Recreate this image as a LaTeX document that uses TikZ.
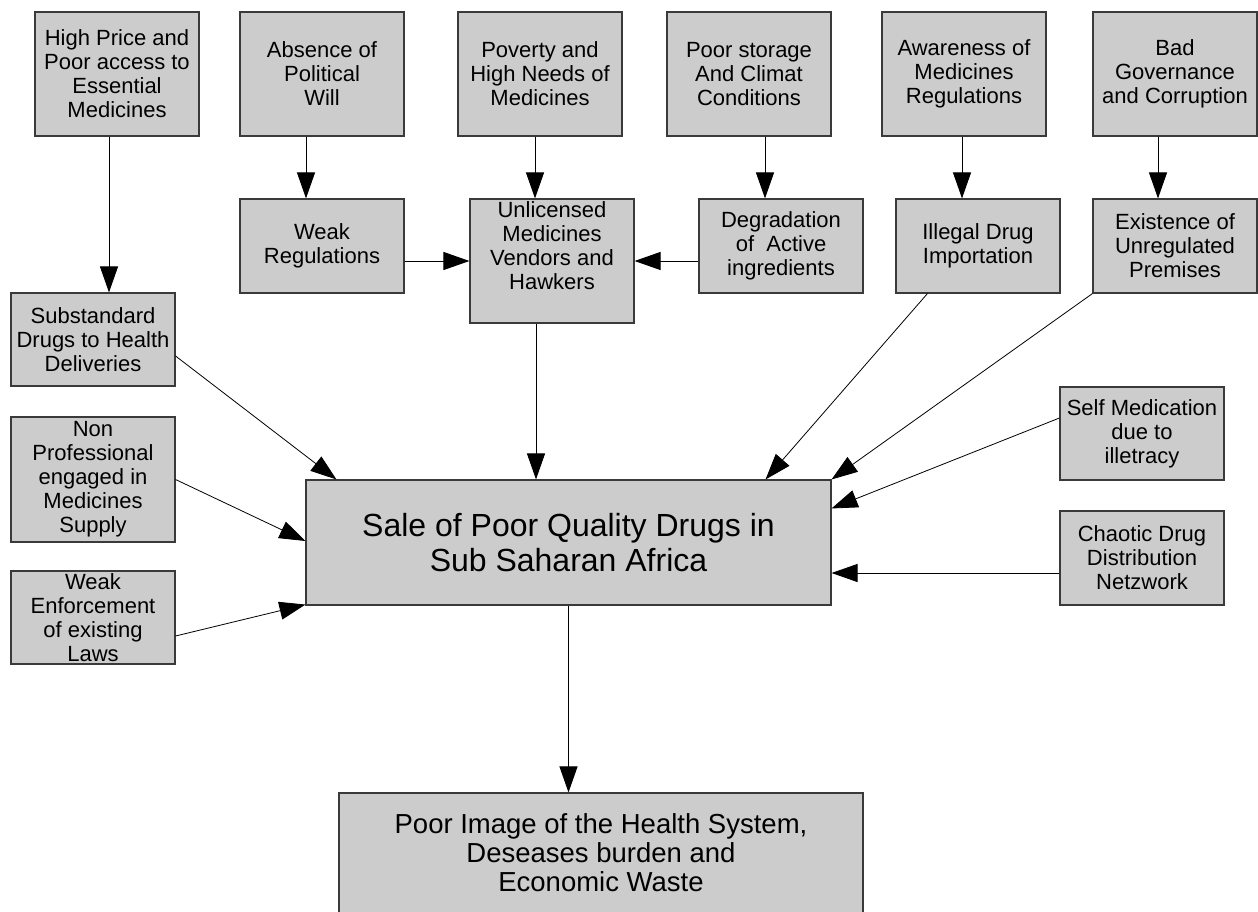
\documentclass[tikz,border=0pt]{standalone}
\usepackage{fontspec}
\setmainfont{Liberation Sans}
\usetikzlibrary{arrows.meta}
\definecolor{boxfill}{HTML}{CCCCCC}
\definecolor{boxline}{HTML}{3A3A3A}
\tikzset{
  cbox/.style={draw=boxline, line width=1.1pt, fill=boxfill, minimum width=164pt,
    inner sep=0pt, align=center, font=\fontsize{22}{24}\selectfont},
  tallbox/.style={cbox, minimum height=124pt},
  lowbox/.style={cbox, minimum height=94pt},
  arr/.style={draw=black, line width=1pt, -{Triangle[length=26pt,width=18pt]}},
}
\begin{document}
\begin{tikzpicture}[x=1pt,y=-1pt]
\useasboundingbox (0,0) rectangle (1258,912);
\clip (0,0) rectangle (1258,912);
\fill[white] (0,0) rectangle (1258,912);
% top row
\node[tallbox] (hp) at (117,74) {High Price and\\Poor access to\\Essential\\Medicines};
\node[tallbox] (abs) at (322,74) {Absence of\\Political\\Will};
\node[tallbox] (pov) at (540,74) {Poverty and\\High Needs of\\Medicines};
\node[tallbox] (stor) at (749,74) {Poor storage\\And Climat\\Conditions};
\node[tallbox] (aware) at (964,74) {Awareness of\\Medicines\\Regulations};
\node[tallbox] (bad) at (1175,74) {Bad\\Governance\\and Corruption};
% second row
\node[lowbox] (weak) at (322,246) {Weak\\Regulations};
\node[tallbox] (unl) at (552,261) {Unlicensed\\Medicines\\Vendors and\\Hawkers\\\strut};
\node[lowbox] (deg) at (781,246) {Degradation\\of\ \ Active\\ingredients};
\node[lowbox] (ill) at (978,246) {Illegal Drug\\Importation};
\node[lowbox] (exist) at (1175,246) {Existence of\\Unregulated\\Premises};
% left column
\node[cbox, minimum height=93pt] (sub) at (93,339.5) {Substandard\\Drugs to Health\\Deliveries};
\node[cbox, minimum height=125pt] (nonp) at (93,479.5) {Non\\Professional\\engaged in\\Medicines\\Supply};
\node[cbox, minimum height=93pt] (wenf) at (93,617.5) {Weak\\Enforcement\\of existing\\Laws};
% right column
\node[cbox, minimum height=93pt] (self) at (1142,433.5) {Self Medication\\due to\\illetracy};
\node[cbox, minimum height=94pt] (chaos) at (1142,558) {Chaotic Drug\\Distribution\\Netzwork};
% main and result
\node[cbox, minimum width=525pt, minimum height=125pt, font=\fontsize{32}{35}\selectfont] (main) at (568.5,542.5) {Sale of Poor Quality Drugs in\\Sub Saharan Africa};
\node[cbox, minimum width=524pt, minimum height=120pt, font=\fontsize{27.5}{29}\selectfont] (bot) at (601,853) {Poor Image of the Health System,\\Deseases burden and\\Economic Waste};
% connectors
\draw[arr] ([xshift=-8pt]hp.south) -- ([xshift=-8pt]hp.south |- sub.north);
\draw[arr] ([xshift=-16pt]abs.south) -- ([xshift=-16pt]weak.north);
\draw[arr] ([xshift=-5pt]pov.south) -- ([xshift=-5pt]pov.south |- unl.north);
\draw[arr] ([xshift=16pt]stor.south) -- ([xshift=16pt]stor.south |- deg.north);
\draw[arr] ([xshift=-2pt]aware.south) -- ([xshift=-2pt]aware.south |- ill.north);
\draw[arr] ([xshift=-17pt]bad.south) -- ([xshift=-17pt]exist.north);
\draw[arr] ([yshift=-15pt]weak.east) -- (unl.west);
\draw[arr] ([yshift=-15pt]deg.west) -- (unl.east);
\draw[arr] ([xshift=-16pt]unl.south) -- ([xshift=-16pt]unl.south |- main.north);
\draw[arr, line width=0.8pt] ([yshift=-16.5pt]sub.east) -- ([xshift=31pt]main.north west);
\draw[arr, line width=0.8pt] (nonp.east) -- ([yshift=1.5pt]main.west);
\draw[arr, line width=0.8pt] ([yshift=-18.5pt]wenf.east) -- ([yshift=1pt]main.south west);
\draw[arr, line width=0.8pt] ([xshift=32pt]ill.south west) -- ([xshift=-66pt]main.north east);
\draw[arr, line width=0.8pt] (exist.south west) -- (main.north east);
\draw[arr, line width=0.8pt] ([yshift=15.5pt]self.west) -- ([yshift=-29pt]main.north east);
\draw[arr] ([yshift=-15pt]chaos.west) -- ([yshift=-15pt]chaos.west -| main.east);
\draw[arr] (main.south) -- (main.south |- bot.north);
\end{tikzpicture}
\end{document}
